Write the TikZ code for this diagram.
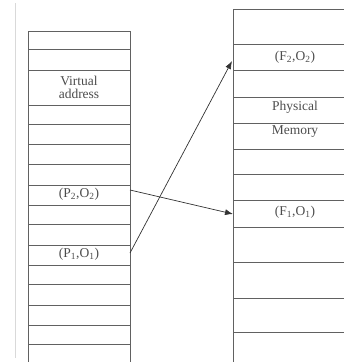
\documentclass[tikz,border=0pt]{standalone}
\usepackage{fontspec}
\setmainfont{Liberation Serif}
\usetikzlibrary{arrows.meta}
\begin{document}
\begin{tikzpicture}[x=1pt,y=-1pt,
  grid/.style={draw=black!62,line width=0.9pt},
  lbl/.style={text=black!70,font=\fontsize{13.5}{15}\selectfont,inner sep=0pt},
  link/.style={draw=black!80,line width=0.7pt,-{Latex[length=8pt,width=6pt]}}]
\useasboundingbox (0,0) rectangle (344,362);
% faint margin line
\draw[black!15,line width=0.8pt] (15,3) -- (15,358);
% left table (virtual)
\draw[grid] (28,31) -- (28,362);
\draw[grid] (130,31) -- (130,362);
\foreach \y in {31,49,70,105,124,144,164,185,205,224,245,265,284,305,325,344}
  \draw[grid] (28,\y) -- (130,\y);
% right table (physical)
\draw[grid] (233,9) -- (233,362);
\foreach \y in {9,44,70,97,123,149,174,200,227,262,298,332}
  \draw[grid] (233,\y) -- (344,\y);
% labels
\node[lbl,align=center] (va) at (79,87) {Virtual\\[-2pt]address};
\node[lbl] (p2) at (79,194) {(P\textsubscript{2},O\textsubscript{2})};
\node[lbl] (p1) at (79,254) {(P\textsubscript{1},O\textsubscript{1})};
\node[lbl] (f2) at (295,57) {(F\textsubscript{2},O\textsubscript{2})};
\node[lbl] (ph) at (295,107) {Physical};
\node[lbl] (me) at (295,132) {Memory};
\node[lbl] (f1) at (295,212) {(F\textsubscript{1},O\textsubscript{1})};
% connector anchors
\coordinate (p2r) at (130,190);
\coordinate (p1r) at (130,253);
\coordinate (f1l) at (233,214);
\coordinate (f2l) at (232,61);
\draw[link] (p2r) -- (f1l);
\draw[link] (p1r) -- (f2l);
\end{tikzpicture}
\end{document}
